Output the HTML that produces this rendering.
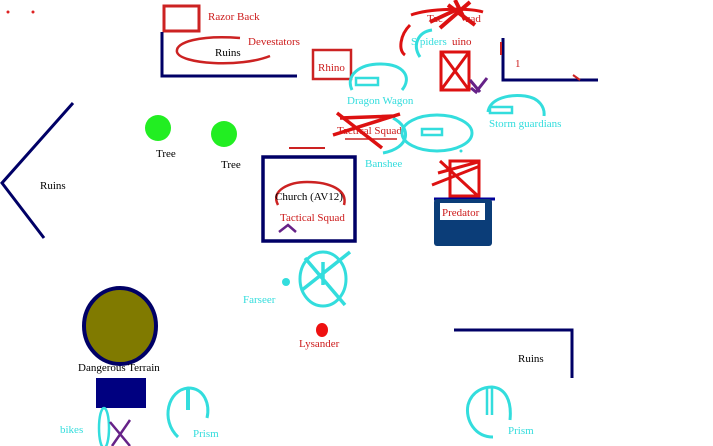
<!DOCTYPE html>
<html><head><meta charset="utf-8"><style>
html,body{margin:0;padding:0;background:#fff;}
svg{display:block;}
text{font-family:"Liberation Serif",serif;font-size:11px;}
.r{fill:#cc1a1a}.c{fill:#33dddd}.k{fill:#000}
</style></head><body>
<svg width="713" height="446" viewBox="0 0 713 446" xmlns="http://www.w3.org/2000/svg">
<rect width="713" height="446" fill="#fff"/>
<circle cx="8" cy="12" r="1.5" fill="#d22"/><circle cx="33" cy="12" r="1.5" fill="#d22"/>
<rect x="164" y="6" width="35" height="25" fill="none" stroke="#cc2222" stroke-width="3"/>
<text x="208" y="20" class="r">Razor Back</text>
<polyline points="162,32 162,76 297,76" fill="none" stroke="#000066" stroke-width="3"/>
<path d="M240,38 C200,35 175,42 177,52 C180,64 240,68 270,56" fill="none" stroke="#cc2222" stroke-width="2.5"/>
<text x="215" y="56" class="k">Ruins</text>
<text x="248" y="45" class="r">Devestators</text>
<rect x="313" y="50" width="38" height="29" fill="none" stroke="#cc2222" stroke-width="2.5"/>
<text x="318" y="71" class="r">Rhino</text>
<path d="M352,90 C345,75 360,64 380,64 C405,64 412,78 402,90" fill="none" stroke="#33dddd" stroke-width="3"/>
<rect x="356" y="78" width="22" height="7" fill="none" stroke="#33dddd" stroke-width="2.5"/>
<text x="347" y="104" class="c">Dragon Wagon</text>
<path d="M411,15 C430,8 470,8 483,12" fill="none" stroke="#dd1111" stroke-width="3"/>
<path d="M440,28 L470,2 M448,5 L475,25 M455,0 L465,20 M430,22 L460,8" stroke="#dd1111" stroke-width="4"/>
<text x="427" y="22" class="r">Tac</text><text x="465" y="22" class="r">uad</text>
<path d="M410,25 C400,35 398,50 405,55" fill="none" stroke="#dd1111" stroke-width="3"/>
<path d="M432,30 C418,32 412,45 420,57" fill="none" stroke="#33dddd" stroke-width="3"/>
<text x="411" y="45" class="c">S piders</text>
<text x="452" y="45" class="r">uino</text>
<rect x="441" y="52" width="28" height="38" fill="none" stroke="#dd1111" stroke-width="3"/>
<path d="M441,52 L469,90 M469,52 L441,90" stroke="#dd1111" stroke-width="3"/>
<path d="M470,80 L480,92 M487,78 L476,92 L471,88" fill="none" stroke="#662288" stroke-width="3"/>
<polyline points="503,38 503,80 598,80" fill="none" stroke="#000066" stroke-width="3"/>
<path d="M501,42 L501,55 M573,75 L580,80" stroke="#cc2222" stroke-width="2"/>
<text x="515" y="67" class="r" font-size="9">1</text>
<path d="M488,112 C490,98 510,94 525,96 C540,98 545,108 544,116" fill="none" stroke="#33dddd" stroke-width="3"/>
<rect x="490" y="107" width="22" height="6" fill="none" stroke="#33dddd" stroke-width="2.5"/>
<text x="489" y="127" class="c">Storm guardians</text>
<circle cx="158" cy="128" r="13" fill="#22ee22"/>
<circle cx="224" cy="134" r="13" fill="#22ee22"/>
<text x="156" y="157" class="k">Tree</text><text x="221" y="168" class="k">Tree</text>
<polyline points="73,103 2,183 44,238" fill="none" stroke="#000066" stroke-width="3"/>
<text x="40" y="189" class="k">Ruins</text>
<path d="M393,118 C412,128 410,148 383,153" fill="none" stroke="#33dddd" stroke-width="3"/>
<text x="337" y="134" class="r">Tactical Squad</text>
<path d="M345,139 L397,139" stroke="#cc2222" stroke-width="1.5"/>
<path d="M337,113 L382,148 M333,135 L400,114 M340,118 L395,116" stroke="#dd1111" stroke-width="3.5"/>
<ellipse cx="437" cy="133" rx="35" ry="18" fill="none" stroke="#33dddd" stroke-width="3"/>
<rect x="422" y="129" width="20" height="6" fill="none" stroke="#33dddd" stroke-width="2.5"/>
<circle cx="461" cy="151" r="1.5" fill="#33dddd"/>
<text x="365" y="167" class="c">Banshee</text>
<path d="M289,148 L325,148" stroke="#cc2222" stroke-width="2"/>
<rect x="263" y="157" width="92" height="84" fill="none" stroke="#000066" stroke-width="3.5"/>
<path d="M278,205 C270,190 290,182 307,182 C330,182 348,190 344,205" fill="none" stroke="#cc2222" stroke-width="2.5"/>
<text x="275" y="200" class="k">Church (AV12)</text>
<text x="280" y="221" class="r">Tactical Squad</text>
<path d="M279,232 L288,225 L296,232" fill="none" stroke="#662288" stroke-width="2.5"/>
<rect x="450" y="161" width="29" height="35" fill="none" stroke="#dd1111" stroke-width="3"/>
<path d="M438,173 L478,162 M432,185 L480,166 M440,161 L478,196" stroke="#dd1111" stroke-width="3"/>
<path d="M434,199 L495,199" stroke="#000099" stroke-width="3"/>
<rect x="434" y="199" width="58" height="47" rx="3" fill="#0b3d78"/>
<rect x="440" y="203" width="45" height="17" fill="#fff"/>
<text x="442" y="216" class="r">Predator</text>
<ellipse cx="323" cy="279" rx="23" ry="27" fill="none" stroke="#33dddd" stroke-width="3"/>
<path d="M305,258 L345,305 M350,252 L302,290 M323,262 L323,285" stroke="#33dddd" stroke-width="3.5"/>
<circle cx="286" cy="282" r="4" fill="#33dddd"/>
<text x="243" y="303" class="c">Farseer</text>
<ellipse cx="322" cy="330" rx="6" ry="7" fill="#ee1111"/>
<text x="299" y="347" class="r">Lysander</text>
<ellipse cx="120" cy="326" rx="36" ry="38" fill="#807a00" stroke="#000066" stroke-width="4"/>
<text x="78" y="371" class="k">Dangerous Terrain</text>
<rect x="96" y="378" width="50" height="30" fill="#000080"/>
<ellipse cx="104" cy="428" rx="5" ry="20" fill="none" stroke="#33dddd" stroke-width="2.5"/>
<path d="M110,422 L130,446 M130,420 L112,446" stroke="#662288" stroke-width="2.5"/>
<text x="60" y="433" class="c" font-size="9">bikes</text>
<path d="M178,437 C160,420 168,390 188,388 C205,388 210,405 207,418" fill="none" stroke="#33dddd" stroke-width="3"/>
<path d="M188,388 L188,410" stroke="#33dddd" stroke-width="4"/>
<text x="193" y="437" class="c">Prism</text>
<path d="M493,437 C475,437 465,420 468,405 C472,390 485,387 492,387 C505,388 512,400 510,420" fill="none" stroke="#33dddd" stroke-width="3"/>
<path d="M487,388 L487,415 M492,388 L492,415" stroke="#33dddd" stroke-width="2.5"/>
<text x="508" y="434" class="c">Prism</text>
<polyline points="454,330 572,330 572,378" fill="none" stroke="#000066" stroke-width="3"/>
<text x="518" y="362" class="k">Ruins</text>
</svg>
</body></html>
